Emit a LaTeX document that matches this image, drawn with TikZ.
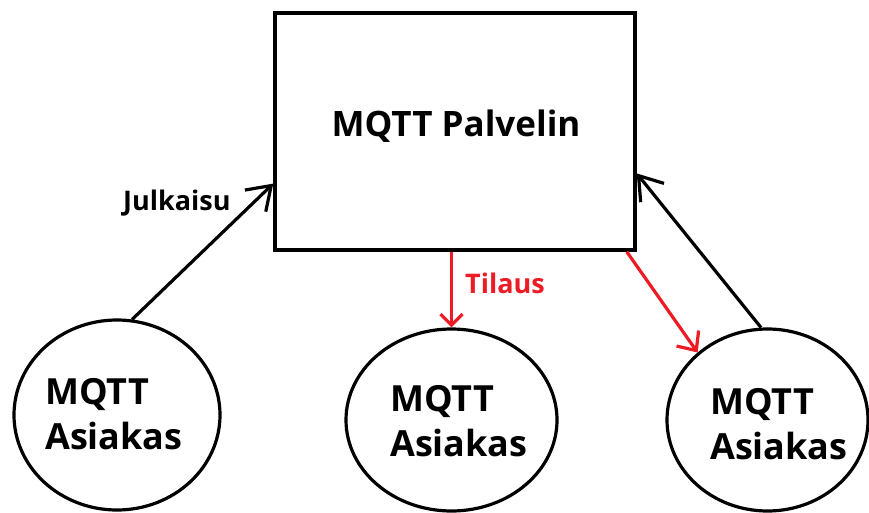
\documentclass[tikz,border=0pt]{standalone}
\usepackage{fontspec}
\setmainfont{Open Sans}
\usetikzlibrary{shapes.geometric,arrows.meta}
\definecolor{pred}{RGB}{237,28,36}
\begin{document}
\begin{tikzpicture}[x=1pt,y=-1pt,
  server/.style={draw, line width=3.5pt, minimum width=360pt, minimum height=237pt, inner sep=0pt},
  client/.style={draw, ellipse, line width=3.2pt, inner sep=0pt},
  titletext/.style={anchor=base, inner sep=0pt, font=\fontsize{35}{42}\selectfont\bfseries},
  clienttext/.style={anchor=base west, align=left, inner sep=0pt, font=\fontsize{36}{45}\selectfont\bfseries},
  labeltext/.style={anchor=base west, inner sep=0pt, font=\fontsize{27}{32}\selectfont\bfseries},
  conn/.style={line width=3.2pt},
  bigtip/.style={-{Straight Barb[length=22pt,width=30pt]}},
  midtip/.style={-{Straight Barb[length=15pt,width=27pt]}},
  smalltip/.style={-{Straight Barb[length=11pt,width=22pt]}},
]
\useasboundingbox (0,0) rectangle (869,513);
\node[server] (box) at (455,131.5) {};
\node[titletext] (title) at (456,137) {MQTT Palvelin};

\node[client, minimum width=206pt, minimum height=190pt] (c1) at (117,415) {};
\node[client, minimum width=211pt, minimum height=182pt] (c2) at (451.5,420) {};
\node[client, minimum width=201pt, minimum height=182pt] (c3) at (767.5,420) {};

\node[clienttext] (t1) at (45,449) {MQTT\\Asiakas};
\node[clienttext] (t2) at (390,456) {MQTT\\Asiakas};
\node[clienttext] (t3) at (710,459) {MQTT\\Asiakas};

\draw[conn, bigtip] (c1.81.3) -- (box.196.5);
\draw[conn, smalltip, pred] (box.south -| c2.north) -- (c2.north);
\draw[conn, midtip, pred] (box.-35.5) -- (c3.136);
\draw[conn, bigtip] (c3.94.8) -- (box.-13.7);

\node[labeltext] (l1) at (123,210) {Julkaisu};
\node[labeltext, text=pred] (l2) at (465,293) {Tilaus};
\end{tikzpicture}
\end{document}
